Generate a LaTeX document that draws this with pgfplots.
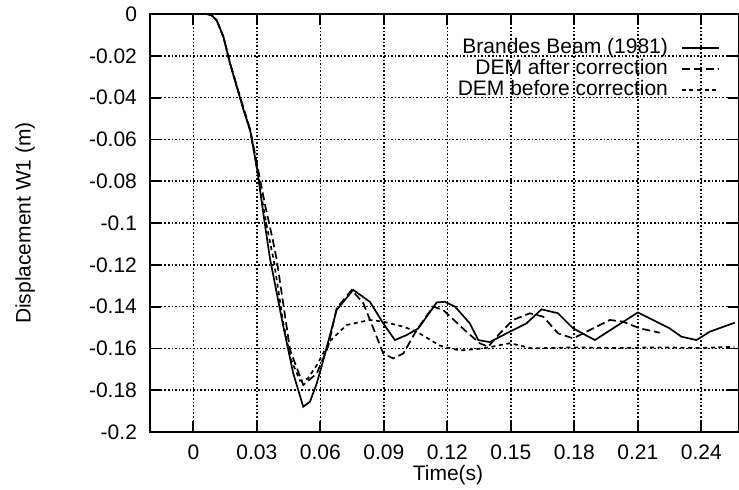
\documentclass[border=0pt]{standalone}
\usepackage{pgfplots}
\pgfplotsset{compat=1.18}
\usepackage{fontspec}
\setmainfont{Liberation Sans}
\newcommand{\lblfont}{\fontsize{10.5}{12.6}\selectfont}
\begin{document}
\begin{tikzpicture}
\begin{axis}[
    scale only axis,
    width=294.5pt, height=209pt,
    xmin=-0.0205, xmax=0.2578,
    ymin=-0.2, ymax=0,
    xtick={0,0.03,0.06,0.09,0.12,0.15,0.18,0.21,0.24},
    ytick={-0.2,-0.18,-0.16,-0.14,-0.12,-0.1,-0.08,-0.06,-0.04,-0.02,0},
    scaled ticks=false,
    /pgf/number format/fixed,
    /pgf/number format/precision=2,
    /pgf/number format/assume math mode=true,
    tick align=inside,
    major tick length=5.5pt,
    tick style={black, line width=0.9pt},
    axis line style={line width=1pt},
    grid=major,
    grid style={black, line width=0.85pt, dash pattern=on 0.8pt off 1pt},
    tick label style={font=\lblfont},
    xticklabel style={yshift=-3pt},
    yticklabel style={xshift=-3pt},
    xlabel={Time(s)},
    ylabel={Displacement W1 (m)},
    label style={font=\lblfont},
    xlabel style={at={(axis description cs:0.506,-0.103)}, anchor=center},
    ylabel style={at={(axis description cs:-0.212,0.5)}, anchor=center},
    legend cell align=right,
    legend plot pos=right,
    legend image code/.code={\draw[#1] (0pt,0pt) -- (18.5pt,0pt);},
    legend style={draw=none, fill=none, font=\lblfont, inner sep=0pt,
        at={(axis description cs:1,1)}, anchor=north east,
        xshift=-9.5pt, yshift=-11.4pt, column sep=6.5pt,
        nodes={inner sep=0pt, text height=7.9pt, text depth=2.6pt}},
]
\coordinate (bl) at (rel axis cs:0,0);
\coordinate (tr) at (rel axis cs:1,1);

% Brandes Beam (1981)
\addplot[black, line width=0.85pt] coordinates {
    (0,0) (0.006,0) (0.0085,-0.0005) (0.011,-0.003) (0.0142,-0.0109)
    (0.0173,-0.0236) (0.0205,-0.0348) (0.0237,-0.0459) (0.0268,-0.0555)
    (0.030,-0.0735) (0.0339,-0.1015) (0.0362,-0.117) (0.0425,-0.1496)
    (0.0472,-0.172) (0.0519,-0.1879) (0.0551,-0.1855) (0.0583,-0.1767)
    (0.0614,-0.1656) (0.0677,-0.1416) (0.0755,-0.132) (0.0834,-0.1377)
    (0.0897,-0.148) (0.0952,-0.156) (0.1008,-0.1536) (0.1063,-0.1504)
    (0.115,-0.138) (0.1188,-0.1377) (0.1236,-0.140) (0.1306,-0.148)
    (0.1346,-0.156) (0.140,-0.157) (0.1495,-0.152) (0.1574,-0.148)
    (0.1645,-0.1413) (0.1723,-0.1432) (0.1794,-0.1504) (0.1897,-0.156)
    (0.210,-0.1428) (0.225,-0.1504) (0.2306,-0.1544) (0.2377,-0.156)
    (0.244,-0.152) (0.2558,-0.1477)
};
\addlegendentry{Brandes Beam (1981)}

% DEM after correction
\addplot[black, line width=0.85pt, dash pattern=on 4pt off 2pt] coordinates {
    (0,0) (0.006,0) (0.0085,-0.0005) (0.011,-0.003) (0.0142,-0.011)
    (0.0175,-0.024) (0.0207,-0.035) (0.024,-0.046) (0.027,-0.056)
    (0.0305,-0.074) (0.034,-0.092) (0.0375,-0.108) (0.0394,-0.1177)
    (0.0457,-0.1608) (0.0519,-0.1775) (0.0583,-0.172) (0.0637,-0.159)
    (0.0677,-0.1408) (0.0748,-0.132) (0.0803,-0.1384) (0.0866,-0.1544)
    (0.0897,-0.1624) (0.0944,-0.1648) (0.0992,-0.1624) (0.1055,-0.1512)
    (0.1133,-0.140) (0.118,-0.1416) (0.129,-0.152) (0.1354,-0.1576)
    (0.1393,-0.1592) (0.1448,-0.1528) (0.151,-0.1464) (0.159,-0.1432)
    (0.1653,-0.1448) (0.1723,-0.1528) (0.1794,-0.1552) (0.1826,-0.1536)
    (0.1889,-0.1504) (0.1968,-0.1464) (0.203,-0.1472) (0.2109,-0.1504)
    (0.2203,-0.1525)
};
\addlegendentry{DEM after correction}

% DEM before correction
\addplot[black, line width=0.85pt, dash pattern=on 2pt off 1.8pt] coordinates {
    (0,0) (0.006,0) (0.0085,-0.0005) (0.011,-0.003) (0.0142,-0.011)
    (0.0174,-0.024) (0.0206,-0.035) (0.0238,-0.046) (0.0269,-0.056)
    (0.030,-0.074) (0.034,-0.098) (0.038,-0.118) (0.0425,-0.148)
    (0.046,-0.165) (0.0504,-0.1755) (0.054,-0.1745) (0.0583,-0.168)
    (0.0645,-0.1565) (0.0724,-0.1488) (0.0834,-0.1464) (0.0897,-0.1472)
    (0.0992,-0.1496) (0.1055,-0.152) (0.1165,-0.1587) (0.1259,-0.161)
    (0.137,-0.160) (0.1495,-0.1575) (0.160,-0.160) (0.18,-0.1595)
    (0.20,-0.1598) (0.22,-0.1595) (0.24,-0.1598) (0.2556,-0.1592)
};
\addlegendentry{DEM before correction}
\end{axis}
\pgfresetboundingbox
\path ([xshift=-75pt,yshift=-28.5pt]bl) rectangle ([yshift=7pt]tr);
\end{tikzpicture}
\end{document}
